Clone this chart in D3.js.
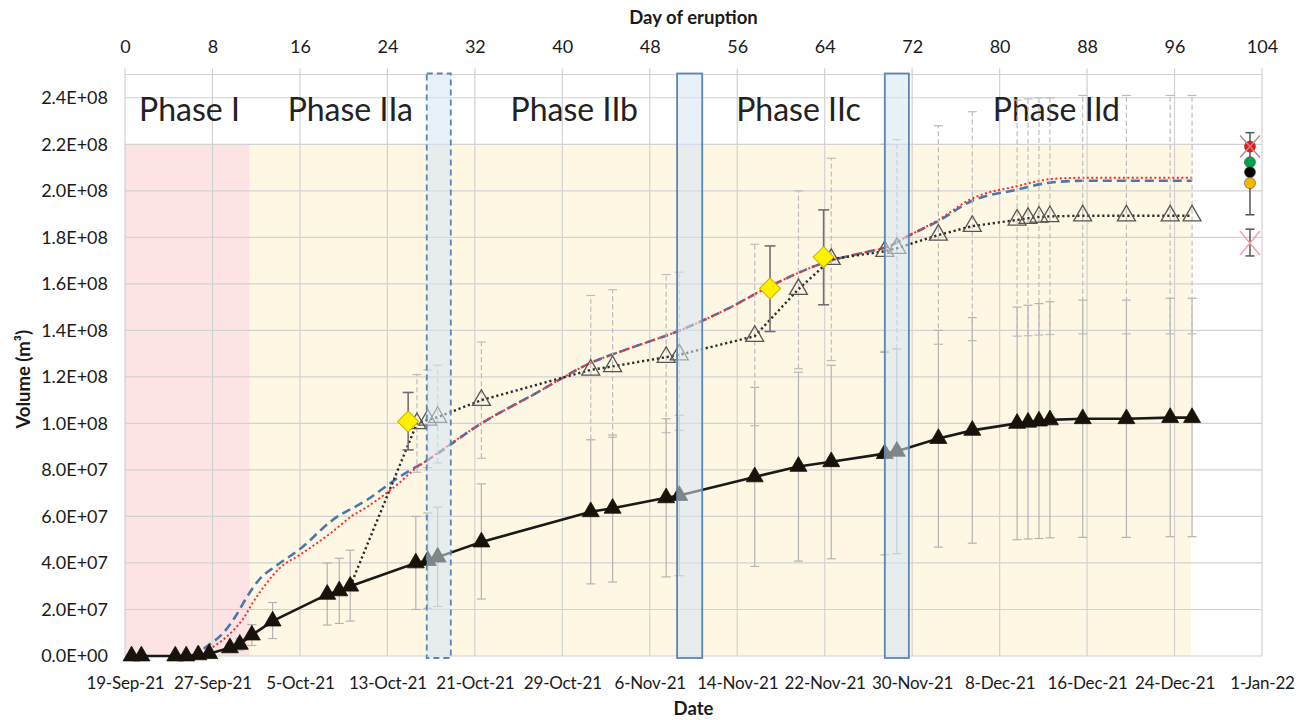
<!DOCTYPE html>
<html><head><meta charset="utf-8">
<script src="https://cdn.jsdelivr.net/npm/d3@7"></script>
<style>
body{margin:0;background:#fff;}
text{font-family:Lato,"Open Sans",sans-serif;fill:#1a1a1a;}
</style>
</head><body>
<svg id="chart" width="1309" height="720"></svg>
<script>
// ---------- axis ticks ----------
const dayTicks = [0,8,16,24,32,40,48,56,64,72,80,88,96,104];
const dateLabels = ["19-Sep-21","27-Sep-21","5-Oct-21","13-Oct-21","21-Oct-21","29-Oct-21","6-Nov-21","14-Nov-21","22-Nov-21","30-Nov-21","8-Dec-21","16-Dec-21","24-Dec-21","1-Jan-22"];
const volTicks = [0,2e7,4e7,6e7,8e7,1e8,1.2e8,1.4e8,1.6e8,1.8e8,2e8,2.2e8,2.4e8];
const volLabels = ["0.0E+00","2.0E+07","4.0E+07","6.0E+07","8.0E+07","1.0E+08","1.2E+08","1.4E+08","1.6E+08","1.8E+08","2.0E+08","2.2E+08","2.4E+08"];

// ---------- phases ----------
const phaseNames = ["Phase I","Phase IIa","Phase IIb","Phase IIc","Phase IId"];
const phaseLabelDays = [5.9,20.6,41.1,61.6,85.2];
const phaseLabelVol = 2.3e8;
const phaseIBounds = [0,11.4];
const phaseIIBounds = [11.4,97.5];
const shadeTopVol = 2.2e8;
const gapStart = [27.6,50.5,69.5];
const gapEnd = [29.8,52.8,71.7];
const gapDashed = [true,false,false];

// ---------- series A: filled triangles, solid line ----------
const aDays = [0.6,1.5,4.6,5.6,6.7,7.7,9.6,10.5,11.6,13.5,18.5,19.6,20.6,26.6,27.7,28.6,32.6,42.6,44.6,49.5,50.7,57.6,61.6,64.6,69.5,70.6,74.4,77.5,81.6,82.6,83.6,84.6,87.6,91.6,95.6,97.6];
const aVals = [0,0,0,0,0.05e7,0.1e7,0.35e7,0.5e7,0.9e7,1.5e7,2.65e7,2.8e7,3.0e7,4.0e7,4.1e7,4.25e7,4.9e7,6.2e7,6.35e7,6.8e7,6.9e7,7.7e7,8.15e7,8.35e7,8.7e7,8.8e7,9.35e7,9.7e7,1.0e8,1.005e8,1.01e8,1.015e8,1.02e8,1.02e8,1.025e8,1.025e8];
const aLow  = [0,0,0,0,0.03e7,0.05e7,0.18e7,0.25e7,0.45e7,0.75e7,1.33e7,1.4e7,1.5e7,2.0e7,2.05e7,2.13e7,2.45e7,3.1e7,3.18e7,3.4e7,3.45e7,3.85e7,4.08e7,4.18e7,4.35e7,4.4e7,4.68e7,4.85e7,5.0e7,5.03e7,5.05e7,5.08e7,5.1e7,5.1e7,5.13e7,5.13e7];
const aHigh = [0,0,0,0,0.08e7,0.15e7,0.52e7,0.75e7,1.35e7,2.3e7,4.0e7,4.2e7,4.55e7,6.0e7,6.15e7,6.4e7,7.4e7,9.3e7,9.5e7,1.02e8,1.035e8,1.155e8,1.22e8,1.25e8,1.305e8,1.32e8,1.40e8,1.455e8,1.5e8,1.508e8,1.515e8,1.523e8,1.53e8,1.53e8,1.538e8,1.538e8];

// ---------- series B: open triangles, dotted line ----------
const bDays = [20.6,26.7,27.7,28.6,32.6,42.6,44.6,49.5,50.7,57.6,61.6,64.6,69.5,70.6,74.4,77.5,81.6,82.6,83.6,84.6,87.6,91.6,95.6,97.6];
const bVals = [3.0e7,1.0e8,1.015e8,1.027e8,1.10e8,1.23e8,1.245e8,1.285e8,1.295e8,1.375e8,1.577e8,1.706e8,1.74e8,1.753e8,1.81e8,1.848e8,1.875e8,1.882e8,1.888e8,1.89e8,1.893e8,1.893e8,1.893e8,1.893e8];
const bLow  = [null,0.79e8,0.81e8,0.83e8,0.85e8,0.93e8,0.94e8,0.96e8,0.97e8,0.99e8,1.235e8,1.27e8,1.31e8,1.32e8,1.34e8,1.356e8,1.375e8,1.377e8,1.38e8,1.382e8,1.385e8,1.385e8,1.385e8,1.385e8];
const bHigh = [null,1.21e8,1.23e8,1.25e8,1.35e8,1.55e8,1.575e8,1.64e8,1.65e8,1.77e8,2.0e8,2.14e8,2.2e8,2.22e8,2.28e8,2.34e8,2.39e8,2.395e8,2.4e8,2.4e8,2.41e8,2.41e8,2.41e8,2.41e8];

// ---------- series E: yellow diamonds ----------
const eDays = [25.9,59.0,63.9];
const eVals = [1.008e8,1.58e8,1.715e8];
const eLow  = [0.886e8,1.395e8,1.51e8];
const eHigh = [1.133e8,1.763e8,1.918e8];

// ---------- curves ----------
const blueDays = [6.1,7.6,9.0,10.1,11.1,12.3,13.9,16.0,19.0,22.1,25.1,27.6,32.6,37.6,42.6,46.6,50.5,55.0,59.0,63.9,68.1,69.5,71.8,74.4,77.4,81.6,84.6,87.6,97.6];
const blueVals = [0,0.45e7,1.0e7,1.7e7,2.5e7,3.3e7,3.9e7,4.6e7,5.85e7,6.7e7,7.7e7,8.4e7,1.0e8,1.13e8,1.26e8,1.33e8,1.395e8,1.49e8,1.59e8,1.69e8,1.74e8,1.755e8,1.81e8,1.87e8,1.955e8,2.005e8,2.035e8,2.043e8,2.043e8];
const redDays = [6.6,8.4,9.9,10.8,11.7,12.9,14.2,16.0,19.0,20.7,22.1,25.1,26.4,27.6,32.6,37.6,42.6,46.6,50.5,55.0,59.0,63.9,68.1,69.5,71.8,74.4,77.4,81.6,84.6,87.6,97.6];
const redVals = [0,0.5e7,1.1e7,1.6e7,2.3e7,3.1e7,3.8e7,4.35e7,5.35e7,6.0e7,6.4e7,7.45e7,8.0e7,8.4e7,1.0e8,1.13e8,1.26e8,1.33e8,1.395e8,1.49e8,1.59e8,1.69e8,1.74e8,1.755e8,1.81e8,1.875e8,1.965e8,2.02e8,2.05e8,2.056e8,2.056e8];

// ---------- right-hand reference markers ----------
const refDay = 102.9;
const refCircleVals = [2.19e8,2.123e8,2.08e8,2.033e8];
const refCircleColors = ["#ff1010","#00a550","#000000","#f5b800"];
const refErr = [1.897e8,2.25e8];
const refXTop = 2.19e8;
const refXBottom = 1.775e8;
const refXBottomErr = [1.72e8,1.835e8];

// ---------- layout ----------
const W = 1309, H = 720;
const margin = {left:125, right:47, top:74.5, bottom:64};
const svg = d3.select("#chart");
const x = d3.scaleLinear().domain([0,104]).range([margin.left, W-margin.right]);
const y = d3.scaleLinear().domain([0,2.5e8]).range([H-margin.bottom, margin.top]);

// background shading
svg.append("rect").attr("x",x(phaseIBounds[0])).attr("width",x(phaseIBounds[1])-x(phaseIBounds[0]))
  .attr("y",y(shadeTopVol)).attr("height",y(0)-y(shadeTopVol)).attr("fill","#fde3e3");
svg.append("rect").attr("x",x(phaseIIBounds[0])).attr("width",x(phaseIIBounds[1])-x(phaseIIBounds[0]))
  .attr("y",y(shadeTopVol)).attr("height",y(0)-y(shadeTopVol)).attr("fill","#fdf7e4");

// gridlines
const grid = svg.append("g").attr("stroke","#d2d2d2").attr("stroke-width",1.2);
grid.selectAll("line.h").data(volTicks.concat([2.5e8])).join("line")
  .attr("x1",x(0)).attr("x2",x(104)).attr("y1",d=>y(d)).attr("y2",d=>y(d));
grid.selectAll("line.v").data(dayTicks).join("line")
  .attr("x1",d=>x(d)).attr("x2",d=>x(d)).attr("y1",y(0)).attr("y2",y(2.5e8)-6);

// phase labels
svg.append("g").selectAll("text").data(phaseNames).join("text")
  .attr("x",(d,i)=>x(phaseLabelDays[i])).attr("y",y(phaseLabelVol))
  .attr("text-anchor","middle").style("font-size","32px").style("fill","#222").text(d=>d);

// curves
const lineGen = d3.line().x(d=>x(d[0])).y(d=>y(d[1])).curve(d3.curveMonotoneX);
svg.append("path").datum(blueDays.map((d,i)=>[d,blueVals[i]])).attr("d",lineGen)
  .attr("fill","none").attr("stroke","#4a78aa").attr("stroke-width",2.6).attr("stroke-dasharray","9,5");
svg.append("path").datum(redDays.map((d,i)=>[d,redVals[i]])).attr("d",lineGen)
  .attr("fill","none").attr("stroke","#ff2a2a").attr("stroke-width",2).attr("stroke-dasharray","2,2.5");

// error bar helper
function errorBars(days, lo, hi, opts){
  const g = svg.append("g").attr("stroke",opts.color).attr("stroke-width",opts.width);
  if(opts.dash) g.attr("stroke-dasharray",opts.dash);
  days.forEach((d,i)=>{
    if(lo[i]==null || hi[i]==null || hi[i]-lo[i] <= 0) return;
    const cx = x(d);
    g.append("line").attr("x1",cx).attr("x2",cx).attr("y1",y(lo[i])).attr("y2",y(hi[i]));
    [lo[i],hi[i]].forEach(v=>{
      g.append("line").attr("x1",cx-opts.cap).attr("x2",cx+opts.cap).attr("y1",y(v)).attr("y2",y(v)).attr("stroke-dasharray","none");
    });
  });
}
errorBars(aDays,aLow,aHigh,{color:"#b3b3b3",width:1.2,cap:4.5});
errorBars(bDays,bLow,bHigh,{color:"#bdbdbd",width:1.2,cap:4.5,dash:"5,3"});

// series B dotted line
const lin = d3.line().x(d=>x(d[0])).y(d=>y(d[1]));
svg.append("path").datum(bDays.map((d,i)=>[d,bVals[i]])).attr("d",lin)
  .attr("fill","none").attr("stroke","#2b2b2b").attr("stroke-width",2.4).attr("stroke-dasharray","2.2,2.8");

// series A solid line
svg.append("path").datum(aDays.map((d,i)=>[d,aVals[i]])).attr("d",lin)
  .attr("fill","none").attr("stroke","#1a1a1a").attr("stroke-width",2.6);

// yellow diamond error bars
errorBars(eDays,eLow,eHigh,{color:"#707070",width:1.6,cap:5.5});

// markers
svg.append("g").selectAll("path").data(aDays).join("path")
  .attr("d",d3.symbol().type(d3.symbolTriangle).size(125)()).attr("transform",(d,i)=>`translate(${x(d)},${y(aVals[i])})`)
  .attr("fill","#17120a").attr("stroke","#17120a").attr("stroke-width",0.8);
svg.append("g").selectAll("path").data(bDays.slice(1)).join("path")
  .attr("d",d3.symbol().type(d3.symbolTriangle).size(140)()).attr("transform",(d,i)=>`translate(${x(d)},${y(bVals[i+1])})`)
  .attr("fill","none").attr("stroke","#555").attr("stroke-width",1.3);
svg.append("g").selectAll("path").data(eDays).join("path")
  .attr("d",d3.symbol().type(d3.symbolSquare).size(220)())
  .attr("transform",(d,i)=>`translate(${x(d)},${y(eVals[i])}) rotate(45)`)
  .attr("fill","#fff000").attr("stroke","#c8b400").attr("stroke-width",1);

// gap boxes (semi-transparent overlay)
svg.append("g").selectAll("rect").data(gapStart).join("rect")
  .attr("x",(d)=>x(d)).attr("width",(d,i)=>x(gapEnd[i])-x(d))
  .attr("y",y(2.5e8)-1).attr("height",y(0)-y(2.5e8)+3)
  .attr("fill","#d6e6f4").attr("fill-opacity",0.55)
  .attr("stroke","#5b86b3").attr("stroke-width",1.8)
  .attr("stroke-dasharray",(d,i)=>gapDashed[i]?"6,4":null);

// reference markers on the right
const rx = x(refDay);
const rg = svg.append("g");
rg.append("line").attr("x1",rx).attr("x2",rx).attr("y1",y(refErr[0])).attr("y2",y(refErr[1])).attr("stroke","#555").attr("stroke-width",1.5);
refErr.forEach(v=>rg.append("line").attr("x1",rx-4.5).attr("x2",rx+4.5).attr("y1",y(v)).attr("y2",y(v)).attr("stroke","#555").attr("stroke-width",1.5));
rg.append("line").attr("x1",rx).attr("x2",rx).attr("y1",y(refXBottomErr[0])).attr("y2",y(refXBottomErr[1])).attr("stroke","#555").attr("stroke-width",1.5);
refXBottomErr.forEach(v=>rg.append("line").attr("x1",rx-4.5).attr("x2",rx+4.5).attr("y1",y(v)).attr("y2",y(v)).attr("stroke","#555").attr("stroke-width",1.5));
function xMark(cy,color,hw,hh){
  rg.append("line").attr("x1",rx-hw).attr("x2",rx+hw).attr("y1",cy-hh).attr("y2",cy+hh).attr("stroke",color).attr("stroke-width",1.5);
  rg.append("line").attr("x1",rx-hw).attr("x2",rx+hw).attr("y1",cy+hh).attr("y2",cy-hh).attr("stroke",color).attr("stroke-width",1.5);
}
xMark(y(refXBottom),"#f39aa5",10,12);
rg.selectAll("circle").data(refCircleVals).join("circle")
  .attr("cx",rx).attr("cy",d=>y(d)).attr("r",5.5)
  .attr("fill",(d,i)=>refCircleColors[i]).attr("stroke","#444").attr("stroke-width",0.6);
xMark(y(refXTop),"#b98a8a",10,11);

// axes
const axTop = svg.append("g").attr("transform",`translate(0,${y(2.5e8)})`)
  .call(d3.axisTop(x).tickValues(dayTicks).tickFormat(d=>d).tickSize(0).tickPadding(22));
const axBot = svg.append("g").attr("transform",`translate(0,${y(0)})`)
  .call(d3.axisBottom(x).tickValues(dayTicks).tickFormat((d,i)=>dateLabels[i]).tickSize(0).tickPadding(21));
const axLeft = svg.append("g").attr("transform",`translate(${x(0)},0)`)
  .call(d3.axisLeft(y).tickValues(volTicks).tickFormat((d,i)=>volLabels[i]).tickSize(0).tickPadding(17));
[axTop,axBot,axLeft].forEach(a=>{
  a.select(".domain").remove();
  a.selectAll("text").style("font-size","18px").style("font-family","Lato,'Open Sans',sans-serif").attr("fill","#1a1a1a");
});
axBot.selectAll("text").style("font-size","17px").style("letter-spacing","-0.2px");

// titles
svg.append("text").attr("x",(x(0)+x(104))/2).attr("y",24).attr("text-anchor","middle")
  .style("font-size","18.5px").style("font-weight","bold").text("Day of eruption");
svg.append("text").attr("x",(x(0)+x(104))/2).attr("y",715).attr("text-anchor","middle")
  .style("font-size","18.5px").style("font-weight","bold").text("Date");
svg.append("text").attr("transform",`translate(30,${(y(0)+y(2.5e8))/2+14}) rotate(-90)`).attr("text-anchor","middle")
  .style("font-size","18.5px").style("font-weight","bold").text("Volume (m³)");
</script>
</body></html>
